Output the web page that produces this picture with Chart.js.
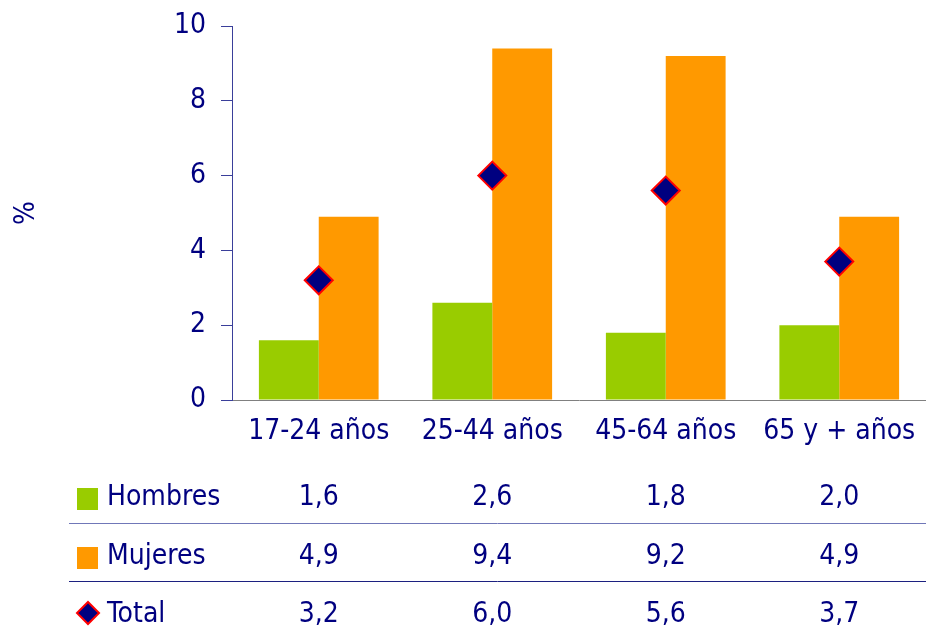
<!DOCTYPE html>
<html>
<head>
<meta charset="utf-8">
<script src="https://cdn.jsdelivr.net/npm/chart.js@4"></script>
<style>
  html, body { margin: 0; padding: 0; background: #fff; }
  #wrap { width: 926px; height: 629px; }
</style>
</head>
<body>
<div id="wrap"><canvas id="grafico" width="926" height="629"></canvas></div>
<script>
const categorias = ['17-24 años', '25-44 años', '45-64 años', '65 y + años'];
const hombres = [1.6, 2.6, 1.8, 2.0];
const mujeres = [4.9, 9.4, 9.2, 4.9];
const total = [3.2, 6.0, 5.6, 3.7];
const ticksY = [0, 2, 4, 6, 8, 10];

const FUENTE = "'Liberation Sans Narrow', 'DejaVu Sans Condensed', 'Arial Narrow', sans-serif";
const AZUL = '#000080';
const VERDE = '#99cc00';
const NARANJA = '#ff9900';

function fmt(v) {
    return v.toFixed(1).replace('.', ',');
}

// tabla de datos debajo del eje x
const tablaPlugin = {
    id: 'tabla',
    afterDraw(chart) {
        const ctx = chart.ctx;
        const xs = chart.scales.x;
        const filas = [
            { nombre: 'Hombres', datos: hombres, y: 496, tipo: 'rect', color: VERDE },
            { nombre: 'Mujeres', datos: mujeres, y: 555, tipo: 'rect', color: NARANJA },
            { nombre: 'Total', datos: total, y: 613, tipo: 'rombo' }
        ];
        ctx.save();
        ctx.font = '28px ' + FUENTE;
        ctx.textBaseline = 'middle';
        filas.forEach(f => {
            if (f.tipo === 'rect') {
                ctx.fillStyle = f.color;
                ctx.fillRect(77, f.y - 8, 21, 22);
            } else {
                ctx.beginPath();
                ctx.moveTo(88, f.y - 11);
                ctx.lineTo(99, f.y);
                ctx.lineTo(88, f.y + 11);
                ctx.lineTo(77, f.y);
                ctx.closePath();
                ctx.fillStyle = AZUL;
                ctx.fill();
                ctx.lineWidth = 2;
                ctx.strokeStyle = '#ff0000';
                ctx.stroke();
            }
            ctx.fillStyle = AZUL;
            ctx.textAlign = 'left';
            ctx.fillText(f.nombre, 107, f.y + 2);
            ctx.textAlign = 'center';
            f.datos.forEach((v, i) => {
                ctx.fillText(fmt(v), xs.getPixelForValue(i), f.y + 2);
            });
        });
        ctx.lineWidth = 1;
        ctx.strokeStyle = '#7077b8';
        ctx.beginPath();
        ctx.moveTo(69, 523.5);
        ctx.lineTo(926, 523.5);
        ctx.stroke();
        ctx.strokeStyle = '#1c2080';
        ctx.beginPath();
        ctx.moveTo(69, 581.5);
        ctx.lineTo(926, 581.5);
        ctx.stroke();
        ctx.restore();
    }
};

const ctx = document.getElementById('grafico').getContext('2d');
new Chart(ctx, {
    data: {
        labels: categorias,
        datasets: [
            {
                type: 'line',
                label: 'Total',
                data: total,
                showLine: false,
                pointStyle: 'rectRot',
                pointRadius: 14,
                pointBorderWidth: 2,
                pointBackgroundColor: AZUL,
                pointBorderColor: '#ff0000',
                order: 0
            },
            {
                type: 'bar',
                label: 'Hombres',
                data: hombres,
                backgroundColor: VERDE,
                categoryPercentage: 0.69,
                barPercentage: 1.0,
                order: 1
            },
            {
                type: 'bar',
                label: 'Mujeres',
                data: mujeres,
                backgroundColor: NARANJA,
                categoryPercentage: 0.69,
                barPercentage: 1.0,
                order: 1
            }
        ]
    },
    options: {
        responsive: false,
        animation: false,
        layout: {
            autoPadding: false,
            padding: { left: 10, right: -8, top: 26, bottom: 0 }
        },
        plugins: {
            legend: { display: false },
            tooltip: { enabled: false }
        },
        scales: {
            x: {
                afterFit: s => { s.height = 229; s.paddingLeft = 0; s.paddingRight = 0; },
                grid: { display: true, drawOnChartArea: false, drawTicks: false },
                border: { display: true, color: '#808080', width: 1 },
                ticks: {
                    color: AZUL,
                    padding: 15,
                    maxRotation: 0,
                    font: { family: FUENTE, size: 28 }
                }
            },
            y: {
                min: 0,
                max: 10,
                afterFit: s => { s.width = 222; s.paddingTop = 0; s.paddingBottom = 0; },
                afterBuildTicks: s => { s.ticks = ticksY.map(v => ({ value: v })); },
                grid: { drawOnChartArea: false, drawTicks: true, tickLength: 11, color: '#3a3f9a' },
                border: { display: true, color: '#3a3f9a', width: 1 },
                ticks: {
                    color: AZUL,
                    padding: 15,
                    font: { family: FUENTE, size: 28 }
                },
                title: {
                    display: true,
                    text: '%',
                    color: AZUL,
                    padding: 0,
                    font: { family: FUENTE, size: 28 }
                }
            }
        }
    },
    plugins: [tablaPlugin]
});
</script>
</body>
</html>
